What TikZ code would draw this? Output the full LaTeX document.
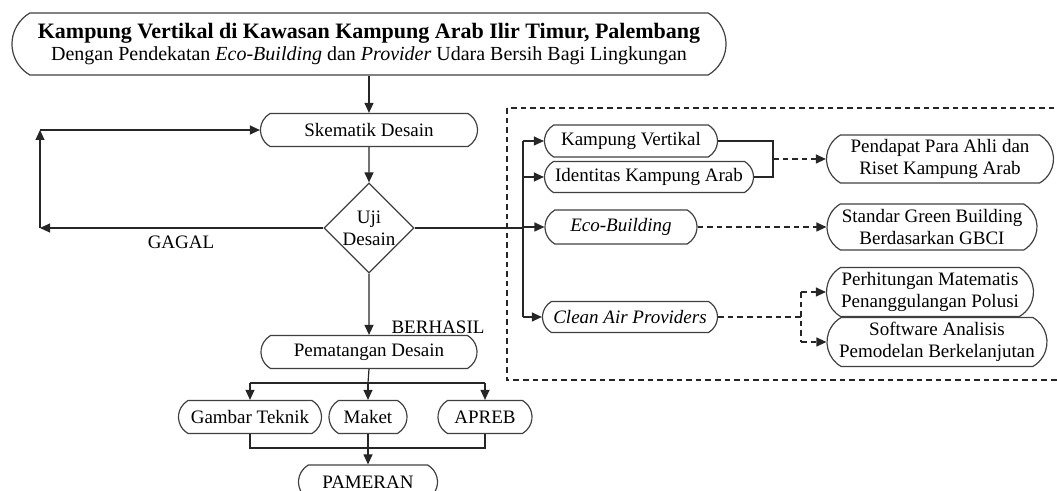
\documentclass[tikz,border=0pt]{standalone}
\usepackage{fontspec}
\setmainfont{Liberation Serif}
\usepackage{tikz}
\usetikzlibrary{shapes.geometric, shapes.misc, arrows.meta, positioning}

\begin{document}
\begin{tikzpicture}[
    x=0.5pt, y=-0.5pt,
    every node/.style={font=\fontsize{9.5}{11}\selectfont},
    stage/.style={rounded rectangle, rounded rectangle arc length=120, draw=black!75, line width=0.6pt, inner sep=0pt, minimum height=16.5pt, align=center},
    test/.style={diamond, draw=black!75, line width=0.6pt, inner sep=0pt, minimum width=45pt, minimum height=45pt, align=center},
    link/.style={line width=0.6pt, black!85},
    arrow/.style={-{Triangle[length=5pt, width=4.5pt]}, line width=0.6pt, black!85},
    dasharrow/.style={arrow, dash pattern=on 2.8pt off 2pt},
    dashline/.style={link, dash pattern=on 2.8pt off 2pt}
]
\clip (0,0) rectangle (1057,491);

\node[stage, minimum width=357pt, minimum height=31pt, font=\fontsize{10}{11}\selectfont] (head) at (369,44) {{\fontsize{11}{11}\selectfont\textbf{Kampung Vertikal di Kawasan Kampung Arab Ilir Timur, Palembang}}\\Dengan Pendekatan \textit{Eco-Building} dan \textit{Provider} Udara Bersih Bagi Lingkungan};
\node[stage, minimum width=108.5pt] (skem) at (369,130) {Skematik Desain};
\node[test] (uji) at (369,228) {Uji\\Desain};
\node[stage, minimum width=108pt] (pemat) at (369,352) {Pematangan Desain};

\node (gagal) at (181,242) {GAGAL};
\node (berhasil) at (438,327) {BERHASIL};

\coordinate (loopb) at (40,228);
\coordinate (loopt) at (40,130);
\coordinate (hub) at (523,228);
\coordinate (hubt) at (523,141);
\coordinate (hubi) at (523,177);
\coordinate (hubb) at (523,317);

\draw[dashline] (507,108) rectangle (1075,380);

\node[stage, minimum width=86.5pt, minimum height=16pt] (kv) at (631,141) {Kampung Vertikal};
\node[stage, minimum width=104.5pt, minimum height=15.5pt] (ika) at (649,177) {Identitas Kampung Arab};
\node[stage, minimum width=76pt, minimum height=17pt] (eco) at (621,227) {\textit{Eco-Building}};
\node[stage, minimum width=87.5pt, minimum height=15.5pt] (cap) at (630,317) {\textit{Clean Air Providers}};

\node[stage, minimum width=113.5pt, minimum height=24pt] (pend) at (940,159) {Pendapat Para Ahli dan\\Riset Kampung Arab};
\node[stage, minimum width=105pt, minimum height=23pt] (std) at (932,227) {Standar Green Building\\Berdasarkan GBCI};
\node[stage, minimum width=103.5pt, minimum height=24.5pt] (perh) at (930,292) {Perhitungan Matematis\\Penanggulangan Polusi};
\node[stage, minimum width=110pt, minimum height=24.5pt] (soft) at (937,342) {Software Analisis\\Pemodelan Berkelanjutan};

\node[stage, minimum width=71.5pt] (gt) at (250,417) {Gambar Teknik};
\node[stage, minimum width=39pt] (mk) at (368,417) {Maket};
\node[stage, minimum width=47pt] (ap) at (485,417) {APREB};
\node[stage, minimum width=69.5pt, minimum height=17pt] (pam) at (368,482) {PAMERAN};

\draw[arrow] (head.south -| skem) -- (skem.north);
\draw[arrow] (skem) -- (uji);
\draw[arrow] (uji) -- (pemat);
\draw[arrow] (uji.west) -- (loopb);
\draw[arrow] (loopb) -- (loopt);
\draw[arrow] (loopt) -- (skem.west);

\draw[link] (uji.east) -- (hub);
\draw[link] (hubt) -- (hubb);
\draw[arrow] (hubt) -- (kv.west);
\draw[arrow] (hubi) -- (ika.west);
\draw[arrow] (hub |- eco) -- (eco.west);
\draw[arrow] (hubb) -- (cap.west);

\draw[link] (kv.east) -- (773,141) -- (773,177) -- (ika.east);
\draw[dasharrow] (773,159) -- (pend.west);
\draw[dasharrow] (eco.east) -- (std.west);
\draw[dashline] (cap.east) -- (801,317);
\draw[dashline] (801,292) -- (801,342);
\draw[dasharrow] (801,292) -- (perh.west);
\draw[dasharrow] (801,342) -- (soft.west);

\draw[link] (pemat.south) -- (368,383);
\draw[link] (250,383) -- (485,383);
\draw[arrow] (250,383) -- (gt.north);
\draw[arrow] (368,383) -- (mk.north);
\draw[arrow] (485,383) -- (ap.north);
\draw[link] (gt.south) -- (250,448) -- (485,448) -- (ap.south);
\draw[arrow] (mk.south) -- (pam.north);

\end{tikzpicture}
\end{document}
